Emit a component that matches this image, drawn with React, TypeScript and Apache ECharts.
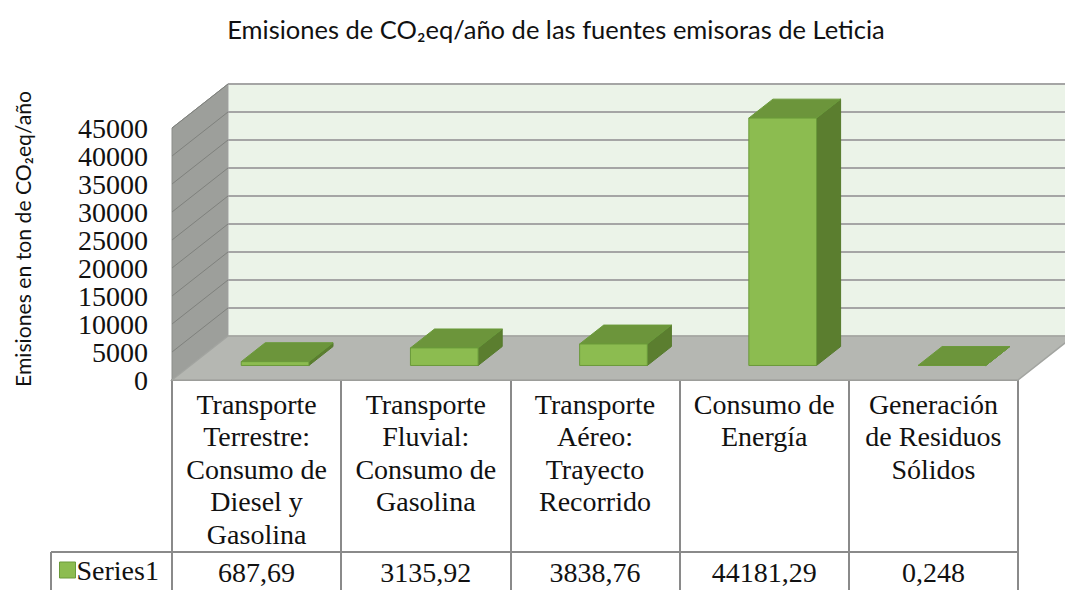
import React, { useEffect, useRef } from "react";
import * as echarts from "echarts";

const chartTitle = "Emisiones de CO₂eq/año de las fuentes emisoras de Leticia";
const yAxisTitle = "Emisiones en ton de CO₂eq/año";
const seriesName = "Series1";
const categories = [
  "Transporte\nTerrestre:\nConsumo de\nDiesel y\nGasolina",
  "Transporte\nFluvial:\nConsumo de\nGasolina",
  "Transporte\nAéreo:\nTrayecto\nRecorrido",
  "Consumo de\nEnergía",
  "Generación\nde Residuos\nSólidos",
];
const values = [687.69, 3135.92, 3838.76, 44181.29, 0.248];
const valueLabels = ["687,69", "3135,92", "3838,76", "44181,29", "0,248"];
const yTicks = [0, 5000, 10000, 15000, 20000, 25000, 30000, 35000, 40000, 45000];

// 3D projection constants (pixels)
const DX = 56;
const DY = -44;
const FRONT_D = 0.33;
const BACK_D = 0.76;
const BAR_RATIO = 0.4;

const SERIF = "Liberation Serif";
const SANS = "Lato";

export default function App() {
  const ref = useRef<HTMLDivElement>(null);
  useEffect(() => {
    document.body.style.margin = "0";
    const chart = echarts.init(ref.current!, undefined, { renderer: "svg" });
    const option: any = {
      animation: false,
      backgroundColor: "#ffffff",
      grid: { left: 172, right: 47, top: 128, bottom: 210, containLabel: false },
      legend: {
        data: [seriesName],
        left: 59,
        top: 556,
        padding: 0,
        icon: "rect",
        itemWidth: 16,
        itemHeight: 16,
        itemStyle: { borderColor: "#6a9a3a", borderWidth: 1 },
        textStyle: { fontFamily: SERIF, fontSize: 28, color: "#111", padding: [0, 0, 0, -4] },
        selectedMode: false,
      },
      xAxis: [
        {
          type: "category",
          data: categories,
          boundaryGap: true,
          axisLine: { show: true, lineStyle: { color: "#8a8a8a", width: 2 } },
          axisTick: { show: true, interval: 0, length: 212, lineStyle: { color: "#8a8a8a", width: 2 } },
          axisLabel: {
            interval: 0,
            margin: 8,
            verticalAlign: "top",
            fontFamily: SERIF,
            fontSize: 28,
            lineHeight: 32.5,
            color: "#111",
            align: "center",
          },
          splitLine: { show: false },
        },
        {
          type: "category",
          data: valueLabels,
          position: "bottom",
          offset: 0,
          axisLine: { show: false },
          axisTick: { show: false },
          axisLabel: {
            interval: 0,
            margin: 192,
            verticalAlign: "middle",
            fontFamily: SERIF,
            fontSize: 28,
            color: "#111",
          },
          splitLine: { show: false },
        },
      ],
      yAxis: {
        type: "value",
        min: 0,
        max: 45000,
        interval: 5000,
        axisLine: { show: false },
        axisTick: { show: false },
        splitLine: { show: false },
        axisLabel: {
          margin: 24,
          fontFamily: SERIF,
          fontSize: 28,
          color: "#111",
          formatter: (v: number) => String(v),
        },
      },
      graphic: [
        {
          type: "text",
          x: 556,
          y: 29,
          style: {
            text: chartTitle,
            fontFamily: SANS,
            fontSize: 25.5,
            fill: "#111",
            align: "center",
            verticalAlign: "middle",
          },
        },
        {
          type: "text",
          x: 23,
          y: 239,
          rotation: Math.PI / 2,
          style: {
            text: yAxisTitle,
            fontFamily: SANS,
            fontSize: 21.2,
            fill: "#111",
            align: "center",
            verticalAlign: "middle",
          },
        },
        {
          type: "line",
          shape: { x1: 51, y1: 552, x2: 1018, y2: 552 },
          style: { stroke: "#8a8a8a", lineWidth: 2 },
        },
        {
          type: "line",
          shape: { x1: 51, y1: 552, x2: 51, y2: 592 },
          style: { stroke: "#8a8a8a", lineWidth: 2 },
        },
      ],
      series: [
        {
          type: "custom",
          name: "walls",
          clip: false,
          silent: true,
          data: [[0, 0]],
          encode: { x: 0, y: 1 },
          renderItem: (params: any, api: any) => {
            const cs = params.coordSys;
            const x0 = cs.x;
            const x1 = cs.x + cs.width;
            const yTop = api.coord([0, yTicks[yTicks.length - 1]])[1];
            const yBot = api.coord([0, 0])[1];
            return {
              type: "group",
              children: [
                {
                  type: "polygon",
                  shape: { points: [[x0, yTop], [x0 + DX, yTop + DY], [x0 + DX, yBot + DY], [x0, yBot]] },
                  style: { fill: "#9d9f9b", stroke: "#8c8e8a", lineWidth: 1 },
                },
                {
                  type: "polygon",
                  shape: { points: [[x0 + DX, yTop + DY], [x1 + DX, yTop + DY], [x1 + DX, yBot + DY], [x0 + DX, yBot + DY]] },
                  style: { fill: "#ebf3e8", stroke: "#a6a6a6", lineWidth: 1 },
                },
                {
                  type: "polygon",
                  shape: { points: [[x0, yBot], [x0 + DX, yBot + DY], [x1 + DX, yBot + DY], [x1, yBot]] },
                  style: { fill: "#b5b7b2", stroke: "#a2a4a0", lineWidth: 1.5 },
                },
              ],
            };
          },
        },
        {
          type: "custom",
          name: "gridlines",
          clip: false,
          silent: true,
          data: yTicks.slice(1).map((t) => [0, t]),
          encode: { x: 0, y: 1 },
          renderItem: (params: any, api: any) => {
            const cs = params.coordSys;
            const x0 = cs.x;
            const x1 = cs.x + cs.width;
            const y = api.coord([0, api.value(1)])[1];
            return {
              type: "group",
              children: [
                {
                  type: "line",
                  shape: { x1: x0, y1: y, x2: x0 + DX, y2: y + DY },
                  style: { stroke: "#7f817d", lineWidth: 1 },
                },
                {
                  type: "line",
                  shape: { x1: x0 + DX, y1: y + DY, x2: x1 + DX, y2: y + DY },
                  style: { stroke: "#a5a5a5", lineWidth: 2 },
                },
              ],
            };
          },
        },
        {
          type: "custom",
          name: seriesName,
          clip: false,
          itemStyle: { color: "#8cbc50" },
          data: values.map((v, i) => [i, v]),
          encode: { x: 0, y: 1 },
          renderItem: (params: any, api: any) => {
            const i = api.value(0);
            const v = api.value(1);
            const top = api.coord([i, v]);
            const base = api.coord([i, 0]);
            const w = api.size([1, 0])[0] * BAR_RATIO;
            const fx0 = top[0] - w / 2 + FRONT_D * DX;
            const fx1 = fx0 + w;
            const yt = top[1] + FRONT_D * DY;
            const yb = base[1] + FRONT_D * DY;
            const ddx = (BACK_D - FRONT_D) * DX;
            const ddy = (BACK_D - FRONT_D) * DY;
            const edge = { stroke: "#6a9a3a", lineWidth: 1, lineJoin: "round" };
            return {
              type: "group",
              children: [
                {
                  type: "polygon",
                  shape: { points: [[fx1, yt], [fx1 + ddx, yt + ddy], [fx1 + ddx, yb + ddy], [fx1, yb]] },
                  style: { fill: "#5b7e2f", ...edge, stroke: "#557a2c" },
                },
                {
                  type: "polygon",
                  shape: { points: [[fx0, yt], [fx1, yt], [fx1 + ddx, yt + ddy], [fx0 + ddx, yt + ddy]] },
                  style: { fill: "#6c953b", ...edge },
                },
                {
                  type: "polygon",
                  shape: { points: [[fx0, yb], [fx1, yb], [fx1, yt], [fx0, yt]] },
                  style: { fill: "#8cbc50", ...edge },
                },
              ],
            };
          },
        },
      ],
    };
    chart.setOption(option);
    return () => chart.dispose();
  }, []);
  return <div ref={ref} style={{ width: 1065, height: 590 }} />;
}
